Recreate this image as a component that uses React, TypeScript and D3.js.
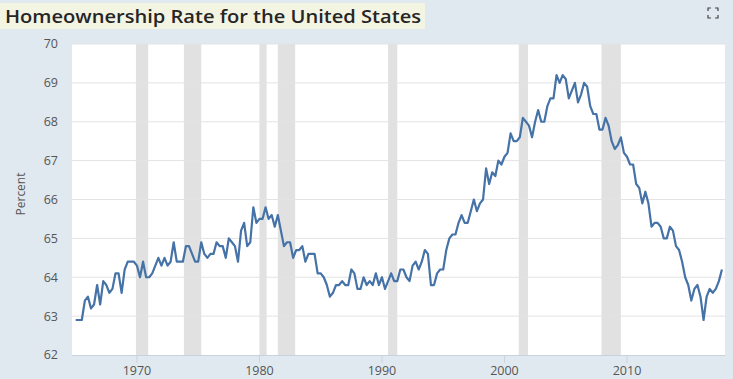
import React from "react";
import * as d3 from "d3";

const title = "Homeownership Rate for the United States";
const yAxisLabel = "Percent";
const startYear = 1965;
// Quarterly homeownership rate (%), 1965 Q1 – 2017 Q4
const rate1965_1974 = [
  62.9, 62.9, 62.9, 63.4,
  63.5, 63.2, 63.3, 63.8,
  63.3, 63.9, 63.8, 63.6,
  63.7, 64.1, 64.1, 63.6,
  64.2, 64.4, 64.4, 64.4,
  64.3, 64.0, 64.4, 64.0,
  64.0, 64.1, 64.3, 64.5,
  64.3, 64.5, 64.3, 64.4,
  64.9, 64.4, 64.4, 64.4,
  64.8, 64.8, 64.6, 64.4,
];
const rate1975_1984 = [
  64.4, 64.9, 64.6, 64.5,
  64.6, 64.6, 64.9, 64.8,
  64.8, 64.5, 65.0, 64.9,
  64.8, 64.4, 65.2, 65.4,
  64.8, 64.9, 65.8, 65.4,
  65.5, 65.5, 65.8, 65.5,
  65.6, 65.3, 65.6, 65.2,
  64.8, 64.9, 64.9, 64.5,
  64.7, 64.7, 64.8, 64.4,
  64.6, 64.6, 64.6, 64.1,
];
const rate1985_1994 = [
  64.1, 64.0, 63.8, 63.5,
  63.6, 63.8, 63.8, 63.9,
  63.8, 63.8, 64.2, 64.1,
  63.7, 63.7, 64.0, 63.8,
  63.9, 63.8, 64.1, 63.8,
  64.0, 63.7, 63.9, 64.1,
  63.9, 63.9, 64.2, 64.2,
  64.0, 63.9, 64.3, 64.4,
  64.2, 64.4, 64.7, 64.6,
  63.8, 63.8, 64.1, 64.2,
];
const rate1995_2004 = [
  64.2, 64.7, 65.0, 65.1,
  65.1, 65.4, 65.6, 65.4,
  65.4, 65.7, 66.0, 65.7,
  65.9, 66.0, 66.8, 66.4,
  66.7, 66.6, 67.0, 66.9,
  67.1, 67.2, 67.7, 67.5,
  67.5, 67.6, 68.1, 68.0,
  67.9, 67.6, 68.0, 68.3,
  68.0, 68.0, 68.4, 68.6,
  68.6, 69.2, 69.0, 69.2,
];
const rate2005_2017 = [
  69.1, 68.6, 68.8, 69.0,
  68.5, 68.7, 69.0, 68.9,
  68.4, 68.2, 68.2, 67.8,
  67.8, 68.1, 67.9, 67.5,
  67.3, 67.4, 67.6, 67.2,
  67.1, 66.9, 66.9, 66.4,
  66.3, 65.9, 66.2, 65.9,
  65.3, 65.4, 65.4, 65.3,
  65.0, 65.0, 65.3, 65.2,
  64.8, 64.7, 64.4, 64.0,
  63.8, 63.4, 63.7, 63.8,
  63.5, 62.9, 63.5, 63.7,
  63.6, 63.7, 63.9, 64.2,
];
const recessionStarts = [1969.917, 1973.833, 1980.0, 1981.5, 1990.5, 2001.167, 2007.917];
const recessionEnds = [1970.917, 1975.25, 1980.583, 1982.917, 1991.25, 2001.917, 2009.5];
const yTicks = [62, 63, 64, 65, 66, 67, 68, 69, 70];
const xTicks = [1970, 1980, 1990, 2000, 2010];

const W = 733;
const H = 379;
const plot = { left: 72, right: 725, top: 44, bottom: 355 };

export default function App() {
  const values = [
    ...rate1965_1974,
    ...rate1975_1984,
    ...rate1985_1994,
    ...rate1995_2004,
    ...rate2005_2017,
  ];
  const data = values.map((v, i) => ({ t: startYear + i * 0.25, v }));

  const x = d3.scaleLinear().domain([1964.7, 2018.0]).range([plot.left, plot.right]);
  const y = d3.scaleLinear().domain([62, 70]).range([plot.bottom, plot.top]);
  const line = d3
    .line<{ t: number; v: number }>()
    .x((d) => x(d.t))
    .y((d) => y(d.v));

  const font = "'Open Sans', 'DejaVu Sans', sans-serif";

  return (
    <svg
      width={W}
      height={H}
      style={{ position: "absolute", left: 0, top: 0, display: "block" }}
    >
      <rect x={0} y={0} width={W} height={H} fill="#e1e9f0" />
      {/* title */}
      <rect x={0} y={3} width={425} height={26} fill="#f4f4e3" />
      <text
        x={5}
        y={23}
        fontFamily={font}
        fontWeight={600}
        fontSize={18.5}
        fill="#262626"
        textLength={416}
        lengthAdjust="spacingAndGlyphs"
      >
        {title}
      </text>
      {/* fullscreen icon */}
      <g stroke="#444" strokeWidth={1.2} fill="none">
        <path d="M708,11 v-3 h3" />
        <path d="M715,8 h3 v3" />
        <path d="M718,15 v3 h-3" />
        <path d="M711,18 h-3 v-3" />
      </g>
      {/* plot area */}
      <rect
        x={plot.left}
        y={plot.top}
        width={plot.right - plot.left}
        height={plot.bottom - plot.top}
        fill="#ffffff"
      />
      {recessionStarts.map((s, i) => (
        <rect
          key={"r" + i}
          x={x(s)}
          y={plot.top}
          width={x(recessionEnds[i]) - x(s)}
          height={plot.bottom - plot.top}
          fill="#e1e1e1"
        />
      ))}
      {yTicks.map((t) => (
        <g key={"y" + t}>
          {t > 62 && (
            <line
              x1={plot.left}
              x2={plot.right}
              y1={y(t)}
              y2={y(t)}
              stroke="#e3e3e3"
              strokeWidth={1}
            />
          )}
          <text
            x={58}
            y={y(t)}
            dy="0.35em"
            textAnchor="end"
            fontFamily={font}
            fontSize={12.5}
            fill="#555"
          >
            {t}
          </text>
        </g>
      ))}
      <line
        x1={plot.left}
        x2={plot.right}
        y1={plot.bottom + 0.5}
        y2={plot.bottom + 0.5}
        stroke="#c9d3de"
        strokeWidth={1}
      />
      {xTicks.map((t) => (
        <g key={"x" + t}>
          <line
            x1={x(t)}
            x2={x(t)}
            y1={plot.bottom}
            y2={plot.bottom + 8}
            stroke="#c9d3de"
            strokeWidth={1}
          />
          <text
            x={x(t)}
            y={375}
            textAnchor="middle"
            fontFamily={font}
            fontSize={12.5}
            fill="#555"
          >
            {t}
          </text>
        </g>
      ))}
      <text
        transform={`translate(25,194) rotate(-90)`}
        textAnchor="middle"
        fontFamily={font}
        fontSize={12}
        fill="#555"
      >
        {yAxisLabel}
      </text>
      <path
        d={line(data) || ""}
        fill="none"
        stroke="#4572a7"
        strokeWidth={2.2}
        strokeLinejoin="round"
      />
    </svg>
  );
}
